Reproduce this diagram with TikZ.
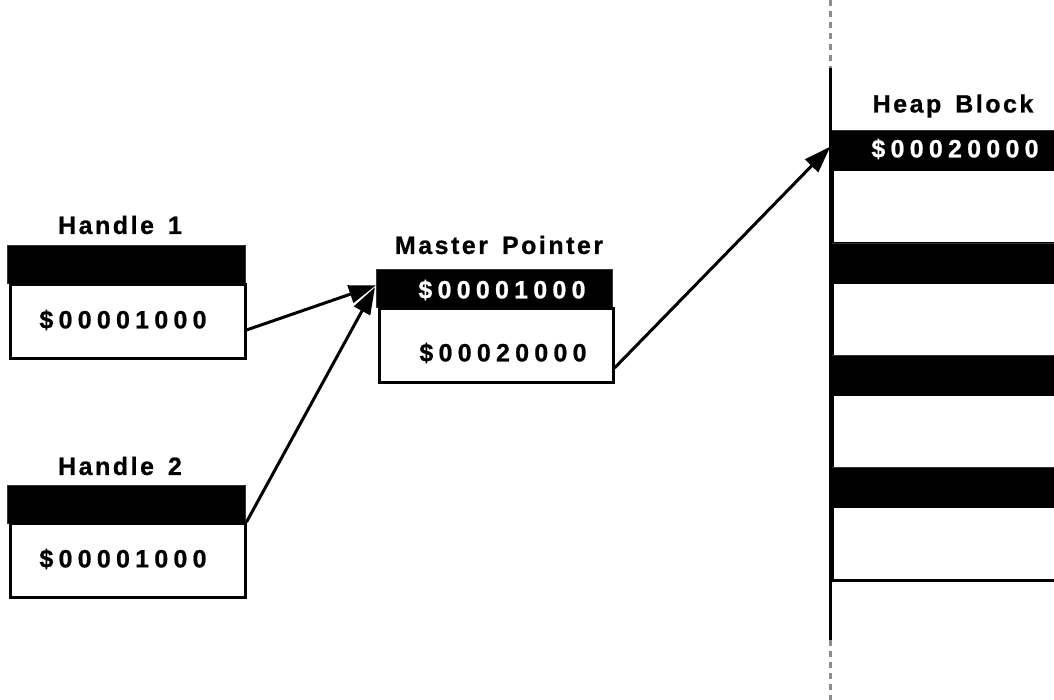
\documentclass[tikz,border=0pt]{standalone}
\usepackage{fontspec}
\setmainfont{Liberation Sans}
\newfontfamily\lblfont{Liberation Sans Bold}[LetterSpace=10,FakeBold=0.8]
\newfontfamily\numfont{Liberation Sans Bold}[LetterSpace=21,FakeBold=0.8]
\usetikzlibrary{arrows.meta}
\begin{document}
\begin{tikzpicture}[x=1pt,y=-1pt,
  bar/.style={fill=black,draw=black!80,line width=1pt,minimum width=#1,minimum height=38pt,inner sep=0pt,anchor=north west},
  cell/.style={draw=black,line width=3pt,fill=white,minimum width=#1,minimum height=74pt,inner sep=0pt,anchor=north west},
  lbl/.style={font=\lblfont\fontsize{25}{29}\selectfont,text=black,inner sep=0pt},
  num/.style={font=\numfont\fontsize{25}{29}\selectfont,inner sep=0pt},
  ptr/.style={line width=3pt,-{Triangle[length=27pt,width=18pt]},shorten >=-2pt}]
\useasboundingbox (0,0) rectangle (1054,700);
\begin{scope}
\clip (0,0) rectangle (1054,700);
% Handle 1
\node[lbl] (h1lbl) at (120,225) {Handle\hspace{14pt}1};
\node[bar=238pt] (h1bar) at (7,245) {};
\node[cell=235pt] (h1box) at (8.5,283) {};
\node[num] (h1num) at (123,320) {\$00001000};
% Handle 2
\node[lbl] (h2lbl) at (120,466) {Handle\hspace{14pt}2};
\node[bar=238pt] (h2bar) at (7,485) {};
\node[cell=235pt] (h2box) at (8.5,522) {};
\node[num] (h2num) at (123,559) {\$00001000};
% Master pointer
\node[lbl] (mplbl) at (499,245) {Master\hspace{14pt}Pointer};
\node[bar=236pt] (mpbar) at (376,269) {};
\node[num,text=white] (mpnum1) at (502,290) {\$00001000};
\node[cell=234pt] (mpbox) at (377.5,307) {};
\node[num] (mpnum2) at (503,353) {\$00020000};
% Heap
\node[lbl] (hplbl) at (953,106) {Heap\hspace{14pt}Block};
\node[bar=240pt] (hb1) at (829,130) {};
\node[num,text=white] (hpnum) at (955,149) {\$00020000};
\node[cell=240pt] (hc1) at (831,168) {};
\node[bar=240pt] (hb2) at (829,243) {};
\node[cell=240pt] (hc2) at (831,281) {};
\node[bar=240pt] (hb3) at (829,355) {};
\node[cell=240pt] (hc3) at (831,393) {};
\node[bar=240pt] (hb4) at (829,467) {};
\node[cell=240pt] (hc4) at (831,505) {};
\coordinate (vtop) at (830,68);
\coordinate (vbot) at (830,640);
\coordinate (vtop0) at (830,0);
\coordinate (vbot0) at (830,700);
\draw[line width=3pt] (vtop) -- (vbot);
\draw[line width=3pt,black!45,dash pattern=on 6pt off 5pt] (vtop0) -- (vtop);
\draw[line width=3pt,black!45,dash pattern=on 6pt off 5pt] (vbot) -- (vbot0);
% arrows
\coordinate (tipA) at (374,286);
\coordinate (tipB) at (374,289);
\coordinate (tipC) at (829,148);
\draw[ptr] (h1box.east |- 0,330) -- (tipA);
\draw[ptr] (h2box.north east) -- (tipB);
\draw[ptr] (mpbox.east |- 0,368) -- (tipC);
\end{scope}
\end{tikzpicture}
\end{document}
